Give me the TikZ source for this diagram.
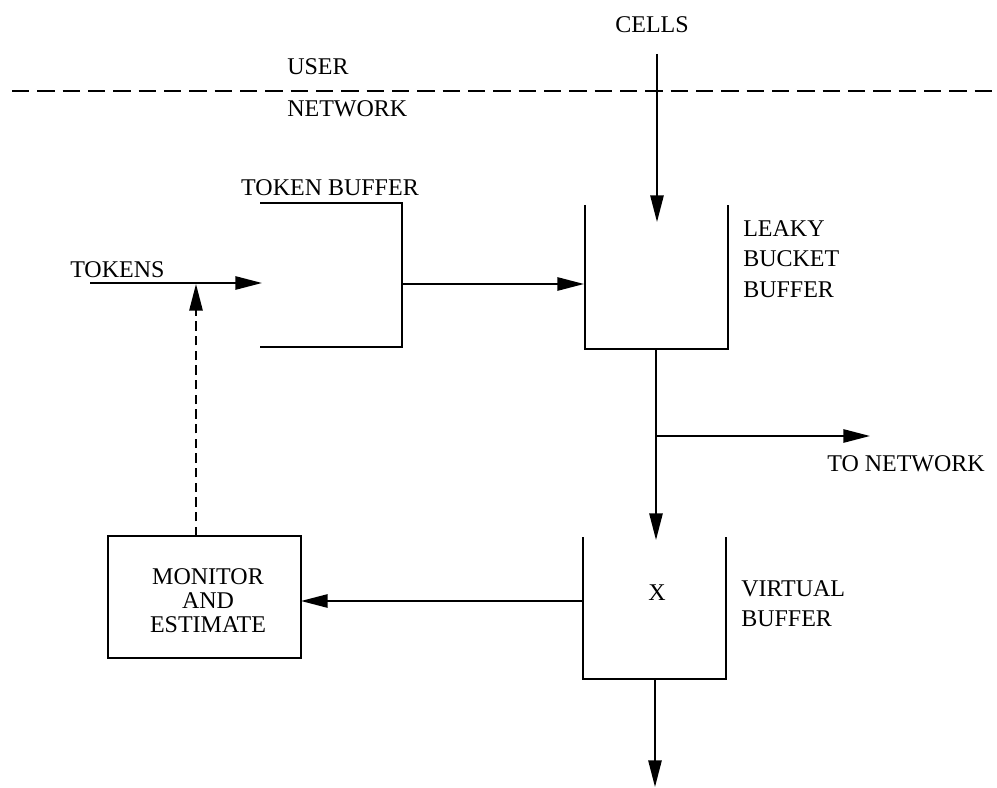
\documentclass[tikz,border=0pt]{standalone}
\usepackage{fontspec}
\setmainfont{Liberation Serif}
\usetikzlibrary{arrows.meta}
\begin{document}
\begin{tikzpicture}[x=0.75pt,y=-0.75pt,
  lbl/.style={font=\fontsize{18}{23}\selectfont, inner sep=0pt},
  conn/.style={line width=1.3pt},
  arr/.style={conn, -{Triangle[length=20pt,width=10pt]}},
  bucket/.style={line width=2.2pt},
  area/.style={inner sep=0pt, outer sep=0pt}
]
\useasboundingbox (0,0) rectangle (997,788);
% user/network boundary
\coordinate (dl) at (12,91);
\coordinate (dr) at (997,91);
\draw[line width=1.8pt, dash pattern=on 13pt off 6pt] (dl) -- (dr);
\node[lbl, anchor=west] (user) at (287,67) {USER};
\node[lbl, anchor=west] (net) at (287,109) {NETWORK};
\node[lbl] (cells) at (652,25) {CELLS};

% token buffer
\node[area, minimum width=106.5pt, minimum height=108pt] (tb) at (331,275) {};
\draw[bucket] (tb.north west) -- (tb.north east) -- (tb.south east) -- (tb.south west);
\node[lbl] (tbl) at (330,188) {TOKEN BUFFER};

% leaky bucket buffer
\node[area, minimum width=107.25pt, minimum height=108pt] (lb) at (656.5,277) {};
\draw[bucket] (lb.north west) -- (lb.south west) -- (lb.south east) -- (lb.north east);
\node[lbl, anchor=north west, align=left] (lbl) at (743,220) {LEAKY\\BUCKET\\BUFFER};

% virtual buffer
\node[area, minimum width=107.25pt, minimum height=106.5pt] (vb) at (654.5,608) {};
\draw[bucket] (vb.north west) -- (vb.south west) -- (vb.south east) -- (vb.north east);
\node[lbl] (x) at (657,593) {X};
\node[lbl, anchor=north west, align=left] (vbl) at (741,580) {VIRTUAL\\BUFFER};

% monitor and estimate
\node[draw, bucket, minimum width=144.75pt, minimum height=91.5pt, inner sep=0pt] (mon) at (204.5,597) {};
\node[lbl, align=center, font=\fontsize{18}{18}\selectfont] (monl) at (208,601) {MONITOR\\AND\\ESTIMATE};

% tokens input
\node[lbl, anchor=west] (tok) at (70,270) {TOKENS};
\coordinate (tokstart) at (90,283);
\coordinate (tokend) at (262,283);
\draw[arr] (tokstart) -- (tokend);
\coordinate (tap) at (196,284);
\coordinate (mtop) at (196,536);
\draw[arr, dash pattern=on 7pt off 4pt] (mtop) -- (tap);

% cells input
\coordinate (cstart) at (657,54);
\coordinate (cend) at (657,222);
\draw[arr] (cstart) -- (cend);

% token buffer -> leaky bucket
\coordinate (tbo) at (402,284);
\coordinate (lbi) at (584,284);
\draw[arr] (tbo) -- (lbi);

% leaky bucket output
\coordinate (lbo) at (656,349);
\coordinate (br) at (656,436);
\coordinate (vbi) at (656,540);
\draw[conn] (lbo) -- (br);
\draw[arr] (br) -- (vbi);
\coordinate (toend) at (870,436);
\draw[arr] (br) -- (toend);
\node[lbl, anchor=west] (tonet) at (827,464) {TO NETWORK};

% virtual buffer -> monitor
\coordinate (vbo) at (583,601);
\coordinate (moni) at (301,601);
\draw[arr] (vbo) -- (moni);

% virtual buffer output
\coordinate (vbb) at (655,679);
\coordinate (vbend) at (655,787);
\draw[arr] (vbb) -- (vbend);
\end{tikzpicture}
\end{document}
